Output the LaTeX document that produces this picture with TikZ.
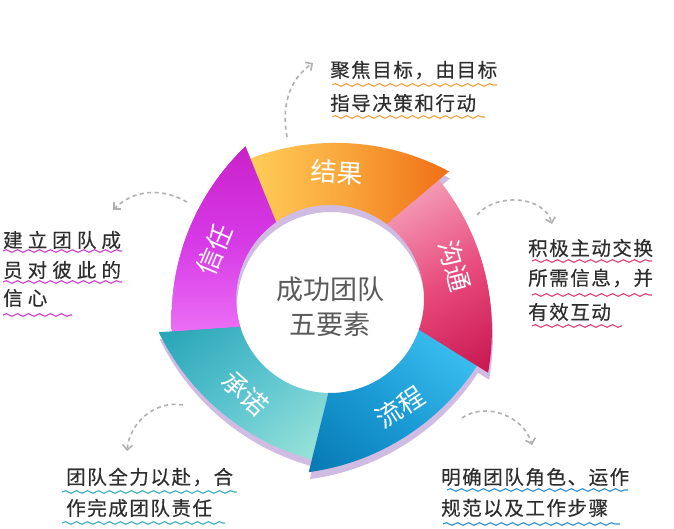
\documentclass[tikz,border=0pt]{standalone}
\usepackage{fontspec}
\newfontfamily\cjk{Noto Sans CJK SC}
\newfontfamily\hand[LetterSpace=8,FakeBold=0.4]{Noto Sans CJK SC}
\newfontfamily\handwide[LetterSpace=26,FakeBold=0.4]{Noto Sans CJK SC}
\usetikzlibrary{calc,arrows.meta,decorations.pathmorphing}

\definecolor{resA}{HTML}{FFD35C}
\definecolor{resM}{HTML}{F9A53A}
\definecolor{resB}{HTML}{EF6B12}
\definecolor{commA}{HTML}{F6A8C0}
\definecolor{commM}{HTML}{E84A7C}
\definecolor{commB}{HTML}{C4104C}
\definecolor{flowA}{HTML}{40C4F2}
\definecolor{flowM}{HTML}{1A9AD4}
\definecolor{flowB}{HTML}{0474AE}
\definecolor{promA}{HTML}{22A2B4}
\definecolor{promM}{HTML}{5CC4D0}
\definecolor{promB}{HTML}{A2E8DA}
\definecolor{trustA}{HTML}{C81EC6}
\definecolor{trustM}{HTML}{D63AE6}
\definecolor{trustB}{HTML}{F07AF8}
\definecolor{ringshadow}{HTML}{D0BCE2}
\definecolor{coregray}{HTML}{5A5A5A}
\definecolor{inkgray}{HTML}{2E2E2E}
\definecolor{hintgray}{HTML}{B0B0B0}
\definecolor{waveorange}{HTML}{F5A040}
\definecolor{wavemagenta}{HTML}{D040D0}
\definecolor{wavepink}{HTML}{E0407A}
\definecolor{waveteal}{HTML}{40B0C0}
\definecolor{waveblue}{HTML}{3090D0}

% clip to one ring segment: #1 tip angle, #2 overlap under the previous one
\newcommand{\segclip}[2]{%
  \clip ({#1-133.2}:83.6) circle (239.5);
  \clip ({#1+78+#2}:94) -- ($({#1+78+#2}:94)!3!({#1+72+#2}:174.4)$) -- ({#1+36}:400)
    -- ($({#1+6}:94)!3!(#1:174.4)$) -- ({#1+6}:94) arc[start angle=#1+6, end angle=#1+78+#2, radius=94] -- cycle;}

\tikzset{
  seglabel/.style={text=white, inner sep=0pt, font=\cjk\fontsize{26}{30}\selectfont},
  core/.style={text=coregray, align=center, inner sep=0pt, font=\cjk\fontsize{27}{35}\selectfont},
  note/.style={anchor=west, inner sep=0pt, text=inkgray, font=\hand\fontsize{19.5}{22}\selectfont},
  notewide/.style={note, font=\handwide\fontsize{19.5}{22}\selectfont},
  wavy/.style={draw=#1, line width=1.1pt, decorate, decoration={snake, amplitude=1.3pt, segment length=11pt}},
  hint/.style={draw=hintgray, line width=1.6pt, dash pattern=on 4pt off 3.5pt, -{Straight Barb[length=5pt,width=10pt]}},
}

\begin{document}
\begin{tikzpicture}[x=1pt,y=1pt]
\fill[white] (0,0) rectangle (674,529);
\useasboundingbox (0,0) rectangle (674,529);

% ring of five segments
\begin{scope}[shift={(330,230)}]
\foreach \a in {119,-169,-97,-25,47}{
  \begin{scope}[shift={(1,-7)}]
    \segclip{\a}{0}
    \fill[ringshadow] ({\a+36}:135) circle (110);
  \end{scope}
}
\foreach \a/\ca/\cm/\cb/\sa/\e in {119/trustA/trustM/trustB/0/1, -169/promA/promM/promB/40/1, -97/flowA/flowM/flowB/-40/1, -25/commA/commM/commB/30/1, 47/resA/resM/resB/90/1, 119/trustA/trustM/trustB/0/0}{
  \begin{scope}
    \segclip{\a}{\e}
    \shade[top color=\ca, bottom color=\cb, middle color=\cm, shading angle=\sa] ({\a+36}:135) circle (110);
  \end{scope}
}
\node[seglabel, rotate=-3] (res) at (87:127) {结果};
\node[seglabel, rotate=-75] (comm) at (15:129) {沟通};
\node[seglabel, rotate=33] (flow) at (-57:129) {流程};
\node[seglabel, rotate=-42] (prom) at (-132:127) {承诺};
\node[seglabel, rotate=67] (trust) at (157:125) {信任};
\node[core] (center) at (0,-8) {成功团队\\五要素};
\end{scope}

% notes
\node[note] (res1) at (330,459) {聚焦目标，由目标};
\node[note] (res2) at (330,426) {指导决策和行动};
\draw[wavy=waveorange] (332,444) -- (497,444);
\draw[wavy=waveorange] (332,412) -- (485,412);

\node[notewide] (trust1) at (3,289) {建立团队成};
\node[notewide] (trust2) at (3,259) {员对彼此的};
\node[notewide] (trust3) at (3,231) {信心};
\draw[wavy=wavemagenta] (3,278) -- (122,278);
\draw[wavy=wavemagenta] (3,247) -- (122,247);
\draw[wavy=wavemagenta] (3,214) -- (72,214);

\node[note] (comm1) at (528,281) {积极主动交换};
\node[note] (comm2) at (528,251) {所需信息，并};
\node[note] (comm3) at (528,217) {有效互动};
\draw[wavy=wavepink] (532,268) -- (652,268);
\draw[wavy=wavepink] (532,234) -- (652,234);
\draw[wavy=wavepink] (532,203) -- (622,203);

\node[note] (prom1) at (66,52) {团队全力以赴，合};
\node[note] (prom2) at (66,21) {作完成团队责任};
\draw[wavy=waveteal] (62,37) -- (237,37);
\draw[wavy=waveteal] (62,6) -- (225,6);

\node[note] (flow1) at (441,52) {明确团队角色、运作};
\node[note] (flow2) at (441,21) {规范以及工作步骤};
\draw[wavy=waveblue] (447,39) -- (628,39);
\draw[wavy=waveblue] (443,5) -- (620,5);

% dashed hints
\coordinate (h1a) at (287,392);
\coordinate (h1b) at (313,466);
\coordinate (h2a) at (187,327);
\coordinate (h2b) at (113,319);
\coordinate (h3a) at (477,314);
\coordinate (h3b) at (552,305);
\coordinate (h4a) at (183,124);
\coordinate (h4b) at (127,78);
\coordinate (h5a) at (462,111);
\coordinate (h5b) at (532,84);
\draw[hint] (h1a) to[out=100,in=215] (h1b);
\draw[hint] (h2a) to[out=150,in=45] (h2b);
\draw[hint] (h3a) to[out=50,in=105] (h3b);
\draw[hint] (h4a) to[out=170,in=85] (h4b);
\draw[hint] (h5a) to[out=35,in=105] (h5b);

\end{tikzpicture}
\end{document}
